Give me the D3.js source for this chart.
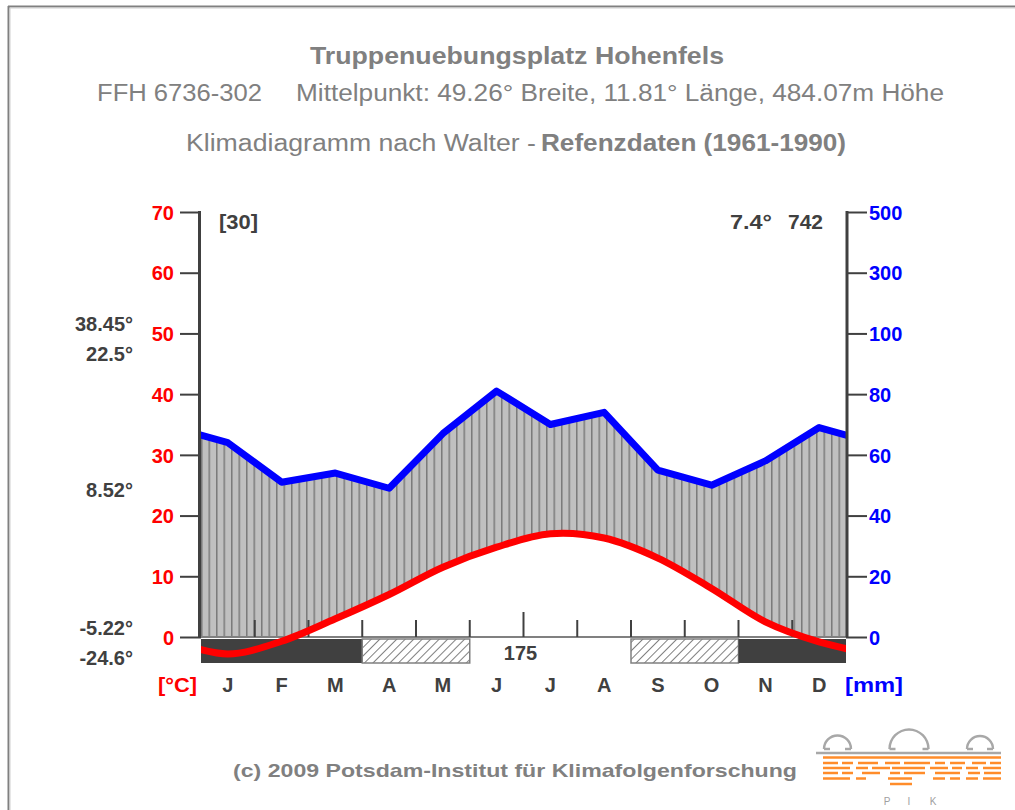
<!DOCTYPE html>
<html>
<head>
<meta charset="utf-8">
<script src="https://cdn.jsdelivr.net/npm/d3@7"></script>
<style>
  html, body { margin: 0; padding: 0; background: #fff; }
  svg { display: block; font-family: "Liberation Sans", Arial, sans-serif; }
</style>
</head>
<body>
<svg id="chart" width="1015" height="810"></svg>
<script>
// ---------------- data ----------------
const months = ["J","F","M","A","M","J","J","A","S","O","N","D"];
const temperature = [-2.8, -0.7, 3.0, 7.0, 11.5, 14.8, 17.0, 16.3, 13.0, 8.0, 2.5, -0.8];
const precipitation = [64, 51, 54, 49, 67, 81, 70, 74, 55, 50, 58, 69];
const frostMonths = ["black","black","black","hatch","hatch","none","none","none","hatch","hatch","black","black"];
const tempTicks = [0, 10, 20, 30, 40, 50, 60, 70];
const precipTicks = [0, 20, 40, 60, 80, 100, 300, 500];
const sideLabels = ["38.45°", "22.5°", "8.52°", "-5.22°", "-24.6°"];
const titleText = "Truppenuebungsplatz Hohenfels";
const subtitleA = "FFH 6736-302";
const subtitleB = "Mittelpunkt: 49.26° Breite, 11.81° Länge, 484.07m Höhe";
const subtitleC1 = "Klimadiagramm nach Walter - ";
const subtitleC2 = "Refenzdaten (1961-1990)";
const yearsLabel = "[30]";
const meanTempLabel = "7.4°";
const sumPrecipLabel = "742";
const frostFreeLabel = "175";
const footerText = "(c) 2009 Potsdam-Institut für Klimafolgenforschung";

// ---------------- layout ----------------
const L = 201, R = 846, TOP = 212, ZERO = 637;
const sideLabelY = [331, 361, 497, 635, 665];
const svg = d3.select("#chart");
const DARK = "#404040", GRAY = "#808080";

const x = d3.scaleLinear().domain([0, 12]).range([L, R]);
const yT = d3.scaleLinear().domain([0, 70]).range([ZERO, TOP]);
const yP = d3.scaleLinear().domain([0, 100, 500]).range([ZERO, yT(50), TOP]);

const defs = svg.append("defs");
const vpat = defs.append("pattern").attr("id", "vlines")
  .attr("patternUnits", "userSpaceOnUse").attr("x", L).attr("y", 0)
  .attr("width", 7.5).attr("height", 20);
vpat.append("rect").attr("width", 7.5).attr("height", 20).attr("fill", "#c0c0c0");
vpat.append("line").attr("x1", 0.75).attr("x2", 0.75).attr("y1", 0).attr("y2", 20)
  .attr("stroke", "#7a7a7a").attr("stroke-width", 1.5);

const hpat = defs.append("pattern").attr("id", "hatch")
  .attr("patternUnits", "userSpaceOnUse").attr("width", 6).attr("height", 6)
  .attr("patternTransform", "rotate(45)");
hpat.append("rect").attr("width", 6).attr("height", 6).attr("fill", "#fff");
hpat.append("line").attr("x1", 0).attr("x2", 0).attr("y1", 0).attr("y2", 6)
  .attr("stroke", "#808080").attr("stroke-width", 2);

defs.append("clipPath").attr("id", "plotClip").append("rect")
  .attr("x", L).attr("y", TOP).attr("width", R - L).attr("height", ZERO - TOP);
defs.append("clipPath").attr("id", "lineClip").append("rect")
  .attr("x", L).attr("y", TOP - 20).attr("width", R - L).attr("height", 500);

// frame
svg.append("line").attr("x1", 8).attr("x2", 1015).attr("y1", 6.5).attr("y2", 6.5).attr("stroke", "#808080").attr("stroke-width", 2);
svg.append("line").attr("x1", 9).attr("x2", 1015).attr("y1", 8).attr("y2", 8).attr("stroke", "#d0d0d0").attr("stroke-width", 1);
svg.append("line").attr("x1", 8.5).attr("x2", 8.5).attr("y1", 6).attr("y2", 810).attr("stroke", "#808080").attr("stroke-width", 2);
svg.append("line").attr("x1", 10).attr("x2", 10).attr("y1", 8).attr("y2", 810).attr("stroke", "#d0d0d0").attr("stroke-width", 1);

// titles
svg.append("text").attr("x", 517).attr("y", 64).attr("text-anchor", "middle")
  .attr("font-size", 23).attr("font-weight", "bold").attr("fill", GRAY)
  .attr("textLength", 414).attr("lengthAdjust", "spacingAndGlyphs").text(titleText);
svg.append("text").attr("x", 97).attr("y", 101).attr("font-size", 23).attr("fill", GRAY)
  .attr("textLength", 165).attr("lengthAdjust", "spacingAndGlyphs").text(subtitleA);
svg.append("text").attr("x", 296).attr("y", 101).attr("font-size", 23).attr("fill", GRAY)
  .attr("textLength", 648).attr("lengthAdjust", "spacingAndGlyphs").text(subtitleB);
svg.append("text").attr("x", 186).attr("y", 151).attr("font-size", 23).attr("fill", GRAY)
  .attr("textLength", 350).attr("lengthAdjust", "spacingAndGlyphs").text(subtitleC1);
svg.append("text").attr("x", 541).attr("y", 151).attr("font-size", 23).attr("font-weight", "bold").attr("fill", GRAY)
  .attr("textLength", 305).attr("lengthAdjust", "spacingAndGlyphs").text(subtitleC2);

// periodic wrap of monthly values (Dec before Jan, Jan after Dec)
function wrapped(arr) {
  const pts = arr.map((v, i) => [i + 0.5, v]);
  return [[-0.5, arr[arr.length - 1]], ...pts, [12.5, arr[0]]];
}
const precPts = wrapped(precipitation);
const tempPts = wrapped(temperature);

// humid area: precipitation down to zero, minus region under temperature
const plotG = svg.append("g").attr("clip-path", "url(#plotClip)");
plotG.append("path").datum(precPts)
  .attr("d", d3.area().x(d => x(d[0])).y0(ZERO).y1(d => yP(d[1])))
  .attr("fill", "url(#vlines)");
plotG.append("path").datum(tempPts)
  .attr("d", d3.area().curve(d3.curveCatmullRom).x(d => x(d[0])).y0(ZERO).y1(d => yT(d[1])))
  .attr("fill", "#fff");

// frost band
const runs = [];
frostMonths.forEach((f, i) => {
  if (runs.length && runs[runs.length - 1].type === f) runs[runs.length - 1].end = i + 1;
  else runs.push({type: f, start: i, end: i + 1});
});
const BAND_T = 639, BAND_B = 663;
svg.append("g").selectAll("rect").data(runs.filter(r => r.type !== "none")).join("rect")
  .attr("x", d => x(d.start)).attr("width", d => x(d.end) - x(d.start))
  .attr("y", BAND_T).attr("height", BAND_B - BAND_T)
  .attr("fill", d => d.type === "black" ? DARK : "url(#hatch)")
  .attr("stroke", d => d.type === "black" ? "none" : GRAY)
  .attr("stroke-width", 1.5);

// zero line
svg.append("line").attr("x1", L).attr("x2", R).attr("y1", ZERO).attr("y2", ZERO)
  .attr("stroke", GRAY).attr("stroke-width", 2);

// month boundary ticks
svg.append("g").selectAll("line").data(d3.range(1, 12)).join("line")
  .attr("x1", d => x(d)).attr("x2", d => x(d))
  .attr("y1", d => d === 6 ? ZERO - 25 : ZERO - 17).attr("y2", ZERO)
  .attr("stroke", DARK).attr("stroke-width", 2);

// lines
const lineG = svg.append("g").attr("clip-path", "url(#lineClip)");
lineG.append("path").datum(precPts)
  .attr("d", d3.line().x(d => x(d[0])).y(d => yP(d[1])))
  .attr("fill", "none").attr("stroke", "#0000ff").attr("stroke-width", 7).attr("stroke-linejoin", "round");
lineG.append("path").datum(tempPts)
  .attr("d", d3.line().curve(d3.curveCatmullRom).x(d => x(d[0])).y(d => yT(d[1])))
  .attr("fill", "none").attr("stroke", "#ff0000").attr("stroke-width", 7);

// axes
const leftAxis = d3.axisLeft(yT).tickValues(tempTicks).tickSize(21).tickPadding(6).tickFormat(d3.format("d"));
const gl = svg.append("g").attr("transform", `translate(${L},0)`).call(leftAxis);
gl.select(".domain").remove();
gl.selectAll(".tick line").attr("stroke", DARK).attr("stroke-width", 2);
gl.selectAll(".tick text").attr("fill", "#ff0000").attr("font-size", 20).attr("font-weight", "bold")
  .attr("font-family", "Liberation Sans, Arial, sans-serif").attr("dy", "0.36em");
gl.append("line").attr("x1", -1.5).attr("x2", -1.5).attr("y1", TOP - 1).attr("y2", ZERO).attr("stroke", DARK).attr("stroke-width", 3);

const rightAxis = d3.axisRight(yP).tickValues(precipTicks).tickSize(21).tickPadding(2).tickFormat(d3.format("d"));
const gr = svg.append("g").attr("transform", `translate(${R},0)`).call(rightAxis);
gr.select(".domain").remove();
gr.selectAll(".tick line").attr("stroke", DARK).attr("stroke-width", 2);
gr.selectAll(".tick text").attr("fill", "#0000ff").attr("font-size", 20).attr("font-weight", "bold")
  .attr("font-family", "Liberation Sans, Arial, sans-serif").attr("dy", "0.36em");
gr.append("line").attr("x1", 1).attr("x2", 1).attr("y1", TOP - 1).attr("y2", ZERO).attr("stroke", DARK).attr("stroke-width", 3);

// month labels
svg.append("g").selectAll("text").data(months).join("text")
  .attr("x", (d, i) => x(i + 0.5)).attr("y", 692).attr("text-anchor", "middle")
  .attr("font-size", 20).attr("font-weight", "bold").attr("fill", DARK).text(d => d);
svg.append("text").attr("x", 158).attr("y", 692).attr("font-size", 20).attr("font-weight", "bold")
  .attr("fill", "#ff0000").attr("textLength", 39).attr("lengthAdjust", "spacingAndGlyphs").text("[°C]");
svg.append("text").attr("x", 845).attr("y", 692).attr("font-size", 20).attr("font-weight", "bold")
  .attr("fill", "#0000ff").attr("textLength", 58).attr("lengthAdjust", "spacingAndGlyphs").text("[mm]");

// side labels
svg.append("g").selectAll("text").data(sideLabels).join("text")
  .attr("x", 133).attr("y", (d, i) => sideLabelY[i]).attr("text-anchor", "end")
  .attr("font-size", 20).attr("font-weight", "bold").attr("fill", DARK).text(d => d);

// corner labels
svg.append("text").attr("x", 219).attr("y", 229).attr("font-size", 20).attr("font-weight", "bold").attr("fill", DARK)
  .attr("textLength", 39).attr("lengthAdjust", "spacingAndGlyphs").text(yearsLabel);
svg.append("text").attr("x", 730).attr("y", 229).attr("font-size", 20).attr("font-weight", "bold").attr("fill", DARK)
  .attr("textLength", 42).attr("lengthAdjust", "spacingAndGlyphs").text(meanTempLabel);
svg.append("text").attr("x", 788).attr("y", 229).attr("font-size", 20).attr("font-weight", "bold").attr("fill", DARK)
  .attr("textLength", 35).attr("lengthAdjust", "spacingAndGlyphs").text(sumPrecipLabel);
svg.append("text").attr("x", x(6) - 3).attr("y", 660).attr("text-anchor", "middle").attr("font-size", 20).attr("font-weight", "bold").attr("fill", DARK).text(frostFreeLabel);

// footer
svg.append("text").attr("x", 233).attr("y", 777).attr("font-size", 19).attr("font-weight", "bold").attr("fill", GRAY)
  .attr("textLength", 564).attr("lengthAdjust", "spacingAndGlyphs").text(footerText);

// PIK logo (decorative)
const logo = svg.append("g");
const LG = "#a8a8a8", OR = "#ff8c2a";
logo.append("line").attr("x1", 816).attr("x2", 1001).attr("y1", 753).attr("y2", 753).attr("stroke", LG).attr("stroke-width", 2.5);
[[837.5, 749, 13.5], [909, 749, 19.5], [980, 749, 13]].forEach(([cx, cy, r]) => {
  logo.append("path").attr("d", d3.arc()({innerRadius: r - 1.2, outerRadius: r + 1.2, startAngle: -Math.PI / 2, endAngle: Math.PI / 2}))
    .attr("transform", `translate(${cx},${cy})`).attr("fill", LG);
  logo.append("line").attr("x1", cx - r).attr("x2", cx - r + 6).attr("y1", cy).attr("y2", cy).attr("stroke", LG).attr("stroke-width", 2.5);
  logo.append("line").attr("x1", cx + r - 6).attr("x2", cx + r).attr("y1", cy).attr("y2", cy).attr("stroke", LG).attr("stroke-width", 2.5);
});
const orangeRows = [
  [757.5, [[823, 1001]]],
  [763, [[823, 838], [842, 853], [858, 878], [885, 900], [904, 930], [935, 945], [950, 965], [972, 986], [990, 1001]]],
  [768, [[823, 850], [856, 868], [872, 890], [892, 925], [930, 948], [952, 962], [966, 978], [983, 1001]]],
  [773, [[823, 838], [842, 853], [862, 880], [890, 900], [904, 925], [935, 960], [968, 980], [984, 1001]]],
  [778.5, [[823, 850], [856, 866], [888, 912], [933, 945], [950, 960], [966, 978], [983, 1001]]],
  [784, [[890, 912]]]
];
orangeRows.forEach(([yy, segs]) => segs.forEach(([a, b]) => {
  logo.append("line").attr("x1", a).attr("x2", b).attr("y1", yy).attr("y2", yy).attr("stroke", OR).attr("stroke-width", 2.5);
}));
[["P", 887], ["I", 909], ["K", 933]].forEach(([t, xx]) => {
  logo.append("text").attr("x", xx).attr("y", 805).attr("text-anchor", "middle").attr("font-size", 10).attr("fill", "#a0a0a0").text(t);
});
</script>
</body>
</html>
